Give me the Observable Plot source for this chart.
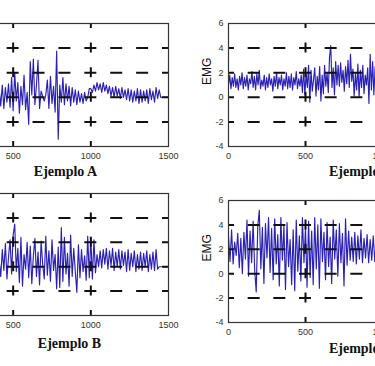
<!DOCTYPE html>
<html>
<head>
<meta charset="utf-8">
<script src="https://cdn.jsdelivr.net/npm/d3@7"></script>
<script src="https://cdn.jsdelivr.net/npm/@observablehq/plot@0.6"></script>
<style>
  html, body { margin: 0; padding: 0; background: #fff; }
  #c { position: relative; width: 375px; height: 366px; overflow: hidden; background: #fff; }
</style>
</head>
<body>
<div id="c"></div>
<script>
// ---- data ----
const xTicksLeft = [500, 1000, 1500];   // visible x tick labels, left column
const xTicksRight = [0, 500, 1000];     // visible x tick labels, right column
const yTicks = [-4, -2, 0, 2, 4, 6];
const gridX = [500, 1000];
const gridY = [-2, 0, 2, 4];
const titles = ["Ejemplo A", "Ejemplo B", "Ejemplo C", "Ejemplo D"];

// Ejemplo A: samples from x = 410, every 10
const startA = 410, stepA = 10;
const emgA = [
  0.6, -0.7, 1.0, -0.9, 0.8, -0.4, 1.1, -0.8, 1.6, -1.1,
  2.0, -0.3, 1.2, -1.3, 0.9, -0.6, 1.8, -1.0, 0.4, -2.2,
  2.9, 0.2, 3.1, -0.6, 1.0, 3.0, -0.9, 0.5, 0.1, -0.3,
  0.2, 1.4, -0.9, 1.7, -0.5, 0.9, -1.2, 3.75, -3.4, 1.0,
  -0.4, 1.6, -0.6, 1.1, -0.3, 0.9, -0.7, 0.8, -0.4, 0.6,
  -0.6, 0.5, -0.4, 0.3, -0.5, 0.4, -0.3, 0, 0.7, 0.7,
  0.4, 1.0, 0.5, 1.2, 0.6, 1.1, 0.4, 1.2, 0.5, 1.0,
  0.3, 0.9, 0.1, 0.8, 0.0, 0.9, 0.1, 0.7, -0.1, 0.8,
  0.0, 0.6, -0.2, 0.7, -0.3, 0.6, -0.4, 0.5, -0.3, 0.7,
  -0.5, 0.6, -0.4, 0.5, -0.3, 0.6, -0.5, 0.7, -0.2, 0.5,
  -0.4, 0.8, -0.1, 0.6, 0, 0, 0, 0, 0, 0
];

// Ejemplo B: samples from x = 410, every 10
const startB = 410, stepB = 10;
const emgB = [
  0.5, -0.8, 1.4, -0.3, 1.9, -1.0, 0.8, 2.2, -0.6, 2.6,
  3.5, -0.4, 1.5, -1.3, 2.4, -1.6, 1.0, -0.2, 2.0, -0.9,
  1.7, -1.4, 0.9, 2.3, -0.8, 1.2, -1.5, 2.1, 0.2, -1.0,
  2.5, -0.7, 1.3, -1.2, 2.2, -0.3, 1.0, -1.8, 1.6, -1.7,
  3.2, -1.2, 2.4, -0.6, 1.1, -1.6, 2.6, -0.8, 1.5, -0.4,
  -2.1, 1.8, -0.9, 1.4, -0.4, 0.9, -1.1, 2.5, -0.9, 2.4,
  -1.0, 2.2, -0.5, 1.0, 0.0, 1.3, -0.1, 1.4, 0.2, 1.5,
  -0.2, 1.3, 0.1, 1.5, -0.3, 1.2, 0.0, 1.4, -0.2, 1.3,
  0.1, 1.2, -0.4, 1.4, -0.3, 1.1, 0.0, 1.3, -0.4, 1.0,
  -0.2, 1.2, -0.3, 1.1, 0.0, 1.3, -0.4, 1.0, -0.2, 1.2,
  -0.3, 1.4, -0.2, 0, 0, 0, 0, 0, 0, 0
];

// Ejemplo C: samples from x = 0, every 8
const startC = 0, stepC = 8;
const emgC = [
  1.0, 1.8, 0.7, 1.6, 0.9, 1.9, 0.8, 1.5, 0.6, 1.7,
  1.0, 2.0, 0.7, 1.6, 0.9, 1.8, 0.6, 1.5, 1.1, 2.1,
  0.8, 1.7, 0.6, 1.9, 1.0, 2.2, 0.7, 1.4, 0.9, 1.8,
  0.6, 1.6, 0.8, 1.9, 1.0, 1.5, 0.5, 1.7, 0.9, 2.0,
  0.7, 1.6, 1.0, 1.8, 0.6, 1.5, 0.9, 2.0, 0.7, 1.7,
  0.8, 1.9, 0.6, 1.6, 1.0, 2.1, 0.7, 1.5, 0.9, 1.8,
  0.4, 2.3, 0.2, 1.9, 0.8, 2.6, -0.4, 2.2, 0.5, 1.4,
  2.4, 0.1, 1.7, 0.6, 2.5, -0.3, 1.8, 0.3, 2.6, 0.9,
  2.0, 0.4, 3.3, 4.2, 0.8, 2.4, 0.2, 2.9, 1.0, 2.6,
  0.9, 2.8, 1.2, 2.2, 0.5, 2.5, 1.1, 3.0, 0.8, 3.5,
  1.3, 2.3, 0.1, 1.9, 0.6, 2.7, 0.0, 2.2, 0.8, 2.6,
  0.3, 1.8, 1.0, 2.4, -0.5, 3.5, 0.6, 2.9, 0.2, 2.5,
  1.0
];

// Ejemplo D: samples from x = 0, every 10
const startD = 0, stepD = 10;
const emgD = [
  3.0, 1.0, 3.6, 0.8, 2.6, 1.5, 3.3, 0.5, 2.9, 0.0,
  3.4, 1.2, 4.4, -0.2, 3.5, 0.9, 4.3, 0.3, -1.5, 3.9,
  5.2, 0.4, 3.8, -0.8, 4.1, 1.3, 4.6, 0.1, 3.7, -0.5,
  4.5, 0.8, 3.2, -1.0, 4.6, 1.1, 3.9, -1.3, 4.2, 0.6,
  2.8, -0.9, 3.6, -1.4, 4.4, 0.2, 3.1, -0.6, 4.6, 0.9,
  3.8, -1.1, 4.3, -0.3, 3.5, -0.9, 4.6, 0.4, 4.0, -1.2,
  4.5, 1.0, 3.4, -0.5, 4.2, 0.6, 3.0, -0.8, 4.4, 1.2,
  3.6, -0.2, 4.1, 0.9, 3.3, -1.0, 4.5, 0.7, 3.5, 1.1,
  3.0, 1.0, 3.4, 0.8, 3.1, 1.2, 3.6, 0.9, 2.9, 1.3,
  3.2, 0.9, 2.8, 1.1, 3.1, 1.0, 2.7
];

// ---- drawing ----
const container = document.getElementById("c");

function panel({values, start, step, left, top, fw, fh, title, tdx, tdy, xTicks, showY}) {
  const data = values.map((v, i) => ({x: start + i * step, y: v}));
  const mL = 40, mR = 10, mT = 8, mB = 46;
  const ph = fw / 9;   // horizontal dash period (500/3 units)
  const pv = fh / 5;   // vertical dash period (2 units)
  const marks = [
    Plot.line(data, {x: "x", y: "y", stroke: "#2b20b4", strokeWidth: 1.15}),
    Plot.ruleY(gridY, {stroke: "#111", strokeWidth: 2, strokeDasharray: `12,${ph - 12}`, strokeDashoffset: 6}),
    Plot.ruleX(gridX, {stroke: "#111", strokeWidth: 2, strokeDasharray: `10,${pv - 10}`, strokeDashoffset: 5}),
    Plot.frame({stroke: "#333", strokeWidth: 1.2}),
    Plot.axisX({ticks: xTicks, tickSize: 0, tickPadding: 6, tickFormat: String, label: null}),
    Plot.text([title], {
      frameAnchor: "bottom", dx: tdx, dy: tdy, fontSize: 14, fontWeight: "bold",
      fontFamily: "'Liberation Serif', 'Times New Roman', serif", fill: "#111"
    })
  ];
  if (showY) {
    marks.push(
      Plot.axisY({ticks: yTicks, tickSize: 0, tickPadding: 5, tickFormat: String, label: null}),
      Plot.text(["EMG"], {frameAnchor: "left", rotate: -90, dx: -21, fontSize: 12, fill: "#111"})
    );
  }
  const chart = Plot.plot({
    width: mL + fw + mR,
    height: mT + fh + mB,
    marginLeft: mL, marginRight: mR, marginTop: mT, marginBottom: mB,
    x: {domain: [0, 1500]},
    y: showY ? {domain: [-4, 6]} : {domain: [-4, 6], axis: null},
    style: {
      background: "transparent",
      fontFamily: "'Liberation Sans', Arial, sans-serif",
      fontSize: "9px",
      color: "#333",
      overflow: "visible"
    },
    marks
  });
  chart.style.position = "absolute";
  chart.style.left = (left - mL) + "px";
  chart.style.top = (top - mT) + "px";
  chart.style.maxWidth = "none";
  container.appendChild(chart);
}

panel({values: emgA, start: startA, step: stepA, left: -65, top: 23, fw: 233, fh: 123, title: titles[0], tdx: 13.5, tdy: 29.5, xTicks: xTicksLeft, showY: false});
panel({values: emgB, start: startB, step: stepB, left: -65, top: 193, fw: 233, fh: 122, title: titles[1], tdx: 17.5, tdy: 32, xTicks: xTicksLeft, showY: false});
panel({values: emgC, start: startC, step: stepC, left: 228, top: 23, fw: 231, fh: 123, title: titles[2], tdx: 17, tdy: 29.5, xTicks: xTicksRight, showY: true});
panel({values: emgD, start: startD, step: stepD, left: 228, top: 200, fw: 231, fh: 122, title: titles[3], tdx: 17, tdy: 30, xTicks: xTicksRight, showY: true});
</script>
</body>
</html>
